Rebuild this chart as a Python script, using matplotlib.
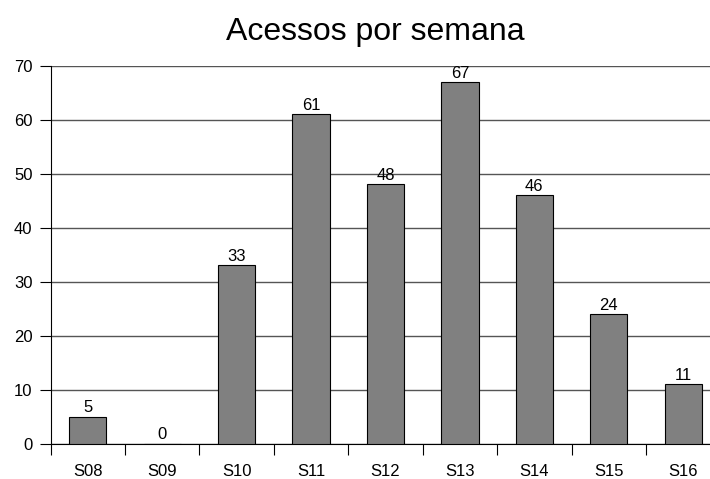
import matplotlib
matplotlib.use("Agg")
import matplotlib.pyplot as plt
import numpy as np

plt.rcParams['font.family'] = ['Liberation Sans', 'DejaVu Sans']

weeks = ['S08', 'S09', 'S10', 'S11', 'S12', 'S13', 'S14', 'S15', 'S16']
acessos = [5, 0, 33, 61, 48, 67, 46, 24, 11]

fig = plt.figure(figsize=(7.1, 4.79), dpi=100)
ax = fig.add_axes([50.5/710, (479-443.5)/479, (710-50.5)/710, (443.5-65.7)/479])

x = np.arange(len(weeks))
ax.bar(x, acessos, width=0.5, color='#808080', edgecolor='black', linewidth=0.8, zorder=3)
for xi, v in zip(x, acessos):
    ax.text(xi, v + 0.2, str(v), ha='center', va='bottom', fontsize=12, zorder=4)

ax.set_ylim(0, 70)
ax.set_yticks(range(0, 71, 10))
ax.set_xlim(-0.5, 8.36)
ax.grid(axis='y', color='#555555', linewidth=1.0, zorder=0)
ax.set_axisbelow(True)

# ticks between categories, labels centered
ax.set_xticks(x)
ax.set_xticklabels(weeks)
ax.tick_params(axis='x', which='major', length=0, labelsize=12, pad=15)
ax.set_xticks(np.arange(-0.5, 8.5, 1), minor=True)
ax.tick_params(axis='x', which='minor', length=8, width=0.8, direction='out')
ax.tick_params(axis='y', length=8, width=0.8, direction='out', labelsize=12, pad=5)

for s in ['top', 'right']:
    ax.spines[s].set_visible(False)
ax.spines['left'].set_linewidth(0.8)
ax.spines['bottom'].set_linewidth(0.8)

fig.text(375.5/710, 1 - 40/479, 'Acessos por semana', ha='center', va='baseline', fontsize=23)

fig.savefig('out.png', dpi=100)
